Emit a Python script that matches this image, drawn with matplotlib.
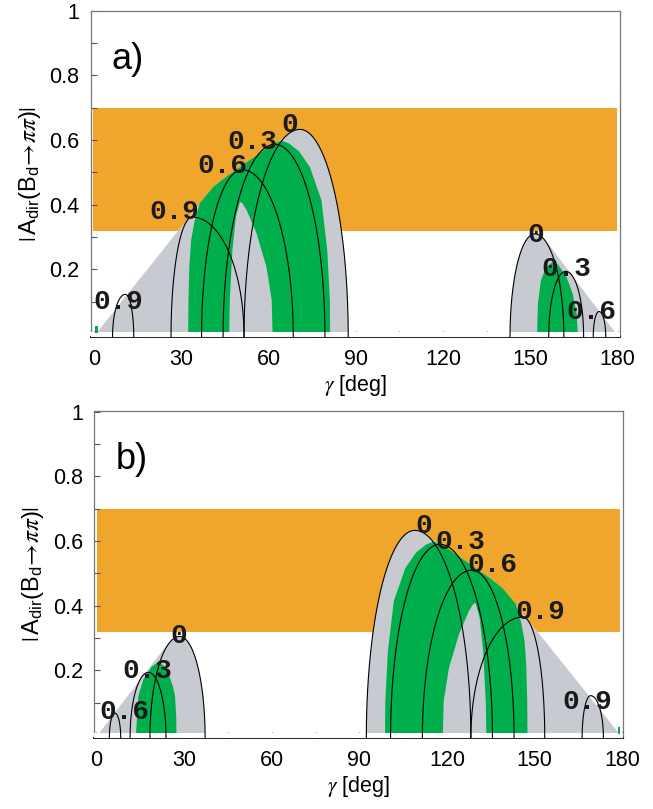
import numpy as np
import matplotlib
matplotlib.use("Agg")
import matplotlib.pyplot as plt

plt.rcParams['font.family'] = ['Liberation Sans', 'DejaVu Sans']
plt.rcParams['mathtext.fontset'] = 'stix'

ORANGE = '#F0A52D'
GRAY = '#C8CAD1'
GREEN = '#00AF4C'

# experimental band of |A_dir|
band_lo, band_hi = 0.32, 0.70

# ---- panel a) ----
# arcs: label, start gamma, peak gamma, end gamma, peak height
a_arc_labels = ['0.9', '0.9', '0.6', '0.3', '0', '0', '0.3', '0.6']
a_arc_start = [6.4, 26.5, 37.0, 44.4, 51.6, 143.0, 156.3, 171.6]
a_arc_peak = [10.8, 33.8, 51.0, 62.2, 70.8, 151.5, 162.2, 173.6]
a_arc_end = [13.7, 51.6, 68.5, 79.4, 87.4, 161.5, 168.3, 175.9]
a_arc_height = [0.123, 0.362, 0.508, 0.587, 0.633, 0.31, 0.194, 0.07]
a_lab_x = [8.4, 27.7, 44.1, 54.4, 67.4, 151.9, 162.4, 170.8]
a_lab_y = [0.099, 0.378, 0.520, 0.594, 0.646, 0.306, 0.200, 0.069]

# gray region: arcs filled below + envelope polygons
a_gray_fill_arcs = [4, 5]
a_gray_env_x = [0.6, 33, 41, 46, 50, 57, 64, 70.8, 70.8]
a_gray_env_y = [0.0, 0.365, 0.455, 0.49, 0.515, 0.56, 0.6, 0.633, 0.0]
a_gray_tri_x = [152, 152, 156.5, 179.6]
a_gray_tri_y = [0.0, 0.31, 0.275, 0.0]

a_green_x = [32.4, 32.5, 32.8, 33.4, 34.6, 36.4, 41, 46, 50, 57, 62, 64.5, 67, 70.5,
             74.2, 78.2, 80.2, 81.1, 81.2]
a_green_y = [0.0, 0.105, 0.21, 0.29, 0.35, 0.405, 0.455, 0.49, 0.515, 0.56, 0.59, 0.598,
             0.59, 0.565, 0.517, 0.414, 0.26, 0.105, 0.0]
a_hole_x = [46.5, 46.7, 47.6, 48.8, 50.2, 51.0, 52.5, 55.9, 59.3, 61.1, 61.4]
a_hole_y = [0.0, 0.105, 0.26, 0.363, 0.409, 0.405, 0.383, 0.311, 0.208, 0.105, 0.0]
a_green2_x = [152.3, 152.6, 153.6, 155.3, 157.5, 159.5, 162.4, 164.5, 165.9, 166.3]
a_green2_y = [0.0, 0.095, 0.165, 0.205, 0.222, 0.215, 0.177, 0.126, 0.064, 0.0]
a_sliver_x = [0.5, 1.3]

# ---- panel b) ----
b_arc_labels = ['0.6', '0.3', '0', '0', '0.3', '0.6', '0.9', '0.9']
b_arc_start = [4.4, 11.5, 18.3, 92.4, 100.7, 111.6, 128.2, 166.3]
b_arc_peak = [6.3, 17.8, 28.5, 109.0, 117.6, 128.5, 146.0, 169.2]
b_arc_end = [8.3, 23.8, 37.2, 128.2, 135.6, 143.0, 153.5, 173.6]
b_arc_height = [0.068, 0.194, 0.305, 0.633, 0.59, 0.51, 0.365, 0.122]
b_lab_x = [9.4, 17.4, 28.0, 112.2, 124.7, 135.5, 151.9, 168.1]
b_lab_y = [0.071, 0.197, 0.305, 0.648, 0.597, 0.525, 0.381, 0.102]

b_gray_fill_arcs = [2, 3]
b_gray_env_x = [179.4, 147, 139, 134, 130, 123, 116, 109, 109]
b_gray_env_y = [0.0, 0.365, 0.455, 0.49, 0.515, 0.56, 0.6, 0.633, 0.0]
b_gray_tri_x = [28, 28, 23.5, 0.4]
b_gray_tri_y = [0.0, 0.305, 0.272, 0.0]

b_green_x = [98.8, 98.9, 99.8, 101.8, 105.8, 109.5, 113, 115.5, 118, 123, 130, 134, 139,
             143.6, 145.4, 146.6, 147.2, 147.5, 147.6]
b_green_y = [0.0, 0.105, 0.26, 0.414, 0.517, 0.565, 0.59, 0.598, 0.59, 0.56, 0.515, 0.49,
             0.455, 0.405, 0.35, 0.29, 0.21, 0.105, 0.0]
b_hole_x = [133.5, 133.3, 132.4, 131.2, 129.8, 129.0, 127.5, 124.1, 120.7, 118.9, 118.6]
b_hole_y = [0.0, 0.105, 0.26, 0.363, 0.409, 0.405, 0.383, 0.311, 0.208, 0.105, 0.0]
b_green2_x = [13.5, 14.3, 16.0, 18.9, 21.2, 23.0, 24.6, 26.2, 26.9, 27.3, 27.4]
b_green2_y = [0.0, 0.12, 0.171, 0.212, 0.226, 0.215, 0.192, 0.15, 0.12, 0.06, 0.0]
b_sliver_x = [178.6, 179.2]


def arch(g0, gp, g1, h, base):
    # two quarter ellipses: steep at the foot, flat at the peak
    t = np.linspace(0, np.pi / 2, 80)
    xl = gp - (gp - g0) * np.cos(t)
    yl = base + (h - base) * np.sin(t)
    xr = gp + (g1 - gp) * np.sin(t)
    yr = base + (h - base) * np.cos(t)
    return np.concatenate([xl, xr]), np.concatenate([yl, yr])


def panel(ax, name, xlim, ylim, band_x, starts, peaks, ends, heights, labels, lx, ly,
          gray_arcs, env_x, env_y, tri_x, tri_y, green_x, green_y, hole_x, hole_y,
          green2_x, green2_y, sliver_x):
    yb = ylim[0]
    ax.fill_between(band_x, band_lo, band_hi, color=ORANGE, lw=0, zorder=1)

    for i in gray_arcs:
        x, y = arch(starts[i], peaks[i], ends[i], heights[i], yb)
        ax.fill(x, y, color=GRAY, lw=0, zorder=2)
    ax.fill(env_x, env_y, color=GRAY, lw=0, zorder=2)
    ax.fill(tri_x, tri_y, color=GRAY, lw=0, zorder=2)

    ax.fill(green_x, green_y, color=GREEN, lw=0, zorder=3)
    ax.fill(hole_x, hole_y, color=GRAY, lw=0, zorder=4)
    ax.fill(green2_x, green2_y, color=GREEN, lw=0, zorder=3)

    # thin white strip above the axis
    ax.axhspan(yb, 0.005, color='white', lw=0, zorder=5)
    ax.fill_between(sliver_x, 0.003, 0.025, color=GREEN, lw=0, zorder=6)

    for s, p, e, h in zip(starts, peaks, ends, heights):
        x, y = arch(s, p, e, h, yb)
        ax.plot(x, y, color='black', lw=0.8, zorder=7)

    for t, x, y in zip(labels, lx, ly):
        ax.text(x, y, t, ha='center', va='center', fontsize=20, fontweight='bold',
                family='Liberation Mono', color='#1a1a1a', zorder=8)

    ax.text(0.04, 0.85, name, transform=ax.transAxes, fontsize=26, va='center', ha='left')

    ax.set_xlim(*xlim)
    ax.set_ylim(*ylim)
    ax.set_xticks([0, 30, 60, 90, 120, 150, 180])
    ax.set_xticks([15, 45, 75, 105, 135, 165], minor=True)
    ax.set_yticks([0.2, 0.4, 0.6, 0.8, 1.0])
    ax.set_yticklabels(['0.2', '0.4', '0.6', '0.8', '1'])
    ax.set_yticks([0.1, 0.3, 0.5, 0.7, 0.9], minor=True)
    ax.tick_params(which='both', direction='in', length=4, width=0.8, color='#555555',
                   top=False, right=False, labelsize=15.5)
    ax.tick_params(axis='y', pad=8)
    ax.tick_params(axis='x', pad=9)
    for side in ['left', 'top', 'right']:
        ax.spines[side].set_color('#777777')
        ax.spines[side].set_linewidth(0.9)
    ax.spines['bottom'].set_color('#222222')
    ax.spines['bottom'].set_linewidth(1.4)

    ax.set_xlabel(r'$\gamma$ [deg]', fontsize=15.5, labelpad=2)
    ax.set_ylabel(r'$|\,\mathregular{A_{dir}(B_d}\!\rightarrow\!\pi\pi\mathregular{)}|$',
                  fontsize=17, labelpad=5)


fig = plt.figure(figsize=(6.53, 8.09), dpi=100)
ax_a = fig.add_axes([90.7 / 653, 1 - 336.7 / 809, (620 - 90.7) / 653, (336.7 - 10.7) / 809])
ax_b = fig.add_axes([94.3 / 653, 1 - 737.7 / 809, (623.3 - 94.3) / 653, (737.7 - 410.7) / 809])

panel(ax_a, 'a)', (-1.1, 180.8), (-0.008, 1.0), [-0.2, 179.7],
      a_arc_start, a_arc_peak, a_arc_end, a_arc_height, a_arc_labels, a_lab_x, a_lab_y,
      a_gray_fill_arcs, a_gray_env_x, a_gray_env_y, a_gray_tri_x, a_gray_tri_y,
      a_green_x, a_green_y, a_hole_x, a_hole_y, a_green2_x, a_green2_y, a_sliver_x)
panel(ax_b, 'b)', (-0.75, 180.4), (-0.008, 1.003), [0.3, 179.4],
      b_arc_start, b_arc_peak, b_arc_end, b_arc_height, b_arc_labels, b_lab_x, b_lab_y,
      b_gray_fill_arcs, b_gray_env_x, b_gray_env_y, b_gray_tri_x, b_gray_tri_y,
      b_green_x, b_green_y, b_hole_x, b_hole_y, b_green2_x, b_green2_y, b_sliver_x)

fig.savefig('out.png', dpi=100)
